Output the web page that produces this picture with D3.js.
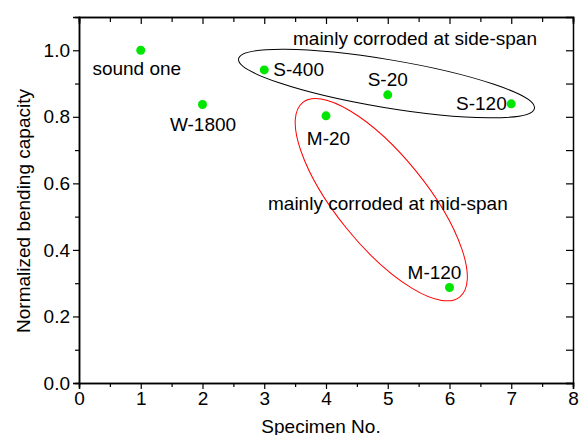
<!DOCTYPE html>
<html>
<head>
<meta charset="utf-8">
<script src="https://cdn.jsdelivr.net/npm/d3@7"></script>
<style>
  body { margin: 0; background: #fff; }
  text { font-family: "Liberation Sans", Arial, sans-serif; fill: #000; }
</style>
</head>
<body>
<div id="chart"></div>
<script>
var specimens = [1, 2, 3, 4, 5, 6, 7];
var capacity = [1.0, 0.837, 0.941, 0.803, 0.866, 0.287, 0.839];
var names = ["sound one", "W-1800", "S-400", "M-20", "S-20", "M-120", "S-120"];
var xTicks = [0, 1, 2, 3, 4, 5, 6, 7, 8];
var yTicks = [0.0, 0.2, 0.4, 0.6, 0.8, 1.0];
var groupNames = ["mainly corroded at side-span", "mainly corroded at mid-span"];

var w = 579, h = 435;
var margin = {left: 79, right: 6, top: 17, bottom: 52};

var svg = d3.select("#chart").append("svg")
  .attr("width", w)
  .attr("height", h);

var x = d3.scaleLinear().domain([0, 8]).range([margin.left, w - margin.right]);
var y = d3.scaleLinear().domain([0, 1.1]).range([h - margin.bottom, margin.top]);

var minorX = d3.range(0.5, 8, 1);
var minorY = d3.range(0.1, 1.1, 0.2);

// ellipses (annotation)
svg.append("ellipse")
  .attr("cx", x(4.98)).attr("cy", y(0.90))
  .attr("rx", 150).attr("ry", 24)
  .attr("transform", "rotate(9.5," + x(4.98) + "," + y(0.90) + ")")
  .attr("fill", "none").attr("stroke", "#000").attr("stroke-width", 1);

svg.append("ellipse")
  .attr("cx", x(4.895)).attr("cy", y(0.551))
  .attr("rx", 125).attr("ry", 45)
  .attr("transform", "rotate(51," + x(4.895) + "," + y(0.551) + ")")
  .attr("fill", "none").attr("stroke", "#ff0000").attr("stroke-width", 1);

// axes
var fs = "19px";
var bottomAxis = svg.append("g")
  .attr("transform", "translate(0," + y(0) + ")")
  .call(d3.axisBottom(x).tickValues(xTicks).tickFormat(d3.format("d")).tickSize(6).tickPadding(3));
bottomAxis.append("g").call(d3.axisBottom(x).tickValues(minorX).tickFormat("").tickSize(4));

var leftAxis = svg.append("g")
  .attr("transform", "translate(" + x(0) + ",0)")
  .call(d3.axisLeft(y).tickValues(yTicks).tickFormat(d3.format(".1f")).tickSize(6).tickPadding(3));
leftAxis.append("g").call(d3.axisLeft(y).tickValues(minorY).tickFormat("").tickSize(4));

var topAxis = svg.append("g")
  .attr("transform", "translate(0," + y(1.1) + ")")
  .call(d3.axisBottom(x).tickValues(xTicks).tickFormat("").tickSize(7));
topAxis.append("g").call(d3.axisBottom(x).tickValues(minorX).tickFormat("").tickSize(5));

var rightAxis = svg.append("g")
  .attr("transform", "translate(" + x(8) + ",0)")
  .call(d3.axisLeft(y).tickValues(yTicks.concat(minorY)).tickFormat("").tickSize(7));

svg.selectAll(".domain").attr("stroke", "#000").attr("stroke-width", 1.5);
svg.selectAll(".tick line").attr("stroke", "#000").attr("stroke-width", 1.2);
svg.selectAll(".tick text")
  .style("font-family", '"Liberation Sans", Arial, sans-serif')
  .style("font-size", fs).attr("fill", "#000");

// axis titles
svg.append("text")
  .attr("x", 321).attr("y", 433)
  .attr("text-anchor", "middle").style("font-size", fs)
  .text("Specimen No.");

svg.append("text")
  .attr("transform", "translate(30,211) rotate(-90)")
  .attr("text-anchor", "middle").style("font-size", fs)
  .text("Normalized bending capacity");

// points
svg.selectAll("circle.pt")
  .data(specimens)
  .enter().append("circle")
  .attr("class", "pt")
  .attr("cx", function (d) { return x(d); })
  .attr("cy", function (d, i) { return y(capacity[i]); })
  .attr("r", 4.5)
  .attr("fill", "#00e600");

// point labels: offset, anchor
var offs = [
  [-4, 24.5, "middle"],
  [0.5, 26, "middle"],
  [9, 6.5, "start"],
  [2.5, 28.7, "middle"],
  [0, -8.6, "middle"],
  [-15, -9, "middle"],
  [-4.5, 5.7, "end"]
];
svg.selectAll("text.lbl")
  .data(specimens)
  .enter().append("text")
  .attr("class", "lbl")
  .attr("x", function (d, i) { return x(d) + offs[i][0]; })
  .attr("y", function (d, i) { return y(capacity[i]) + offs[i][1]; })
  .attr("text-anchor", function (d, i) { return offs[i][2]; })
  .style("font-size", fs)
  .text(function (d, i) { return names[i]; });

svg.append("text")
  .attr("x", 293).attr("y", 45)
  .style("font-size", fs)
  .text(groupNames[0]);

svg.append("text")
  .attr("x", 268).attr("y", 210)
  .style("font-size", fs)
  .text(groupNames[1]);
</script>
</body>
</html>
